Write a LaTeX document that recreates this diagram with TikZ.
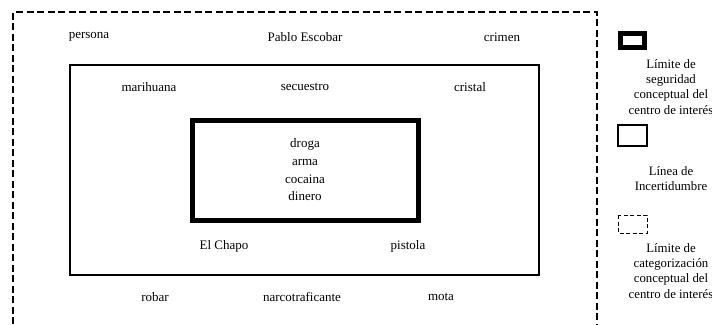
\documentclass[tikz,border=0pt]{standalone}
\usepackage{fontspec}
\setmainfont{Liberation Serif}
\begin{document}
\begin{tikzpicture}[x=1pt,y=-1pt,
  word/.style={font=\fontsize{13}{15}\selectfont, inner sep=0pt},
  legtext/.style={font=\fontsize{12.8}{15.2}\selectfont, align=center, inner sep=0pt},
  catbox/.style={draw, line width=1.5pt, dash pattern=on 7pt off 3.5pt},
  uncbox/.style={draw, line width=1.2pt},
  secbox/.style={draw, line width=5pt}]
\useasboundingbox (0,0) rectangle (712,324);
% outer dashed boundary (bottom runs off the picture)
\coordinate (obl) at (13,324);
\coordinate (otl) at (13,12);
\coordinate (otr) at (597,12);
\coordinate (obr) at (597,324);
\draw[catbox] (obl) -- (otl) -- (otr) -- (obr);
% inner boxes
\draw[uncbox] (70,65) rectangle (539,275);
\draw[secbox] (192,120) rectangle (418,220.5);
% words
\node[word] (persona) at (89,37) {persona};
\node[word] (pablo) at (305,37) {Pablo Escobar};
\node[word] (crimen) at (502,37) {crimen};
\node[word] (mari) at (149,87) {marihuana};
\node[word] (secu) at (305,87) {secuestro};
\node[word] (cristal) at (470,87) {cristal};
\node[word] (droga) at (305,144) {droga};
\node[word] (arma) at (305,162) {arma};
\node[word] (coca) at (305,179) {cocaina};
\node[word] (dinero) at (305,196) {dinero};
\node[word] (chapo) at (224,246) {El Chapo};
\node[word] (pistola) at (408,246) {pistola};
\node[word] (robar) at (155,297) {robar};
\node[word] (narco) at (302,297) {narcotraficante};
\node[word] (mota) at (441,297) {mota};
% legend
\draw[secbox] (620.5,33.5) rectangle (644.5,47);
\node[legtext] (l1) at (671,87) {Límite de\\seguridad\\conceptual del\\centro de interés};
\draw[uncbox] (618,125) rectangle (647,146);
\node[legtext] (l2) at (671,178.5) {Línea de\\Incertidumbre};
\draw[line width=1pt, dash pattern=on 4pt off 2.5pt] (618,215) rectangle (647,233);
\node[legtext] (l3) at (671,271) {Límite de\\categorización\\conceptual del\\centro de interés};
\end{tikzpicture}
\end{document}
